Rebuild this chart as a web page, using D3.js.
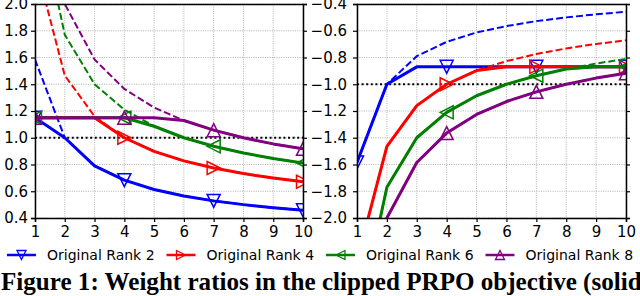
<!DOCTYPE html>
<html>
<head>
<meta charset="utf-8">
<script src="https://cdn.jsdelivr.net/npm/d3@7"></script>
<style>
  body { margin: 0; background: #fff; overflow: hidden; }
  svg { display: block; }
  .tick text { font-family: "DejaVu Sans", sans-serif; font-size: 15px; fill: #000; }
  .legend text { font-family: "DejaVu Sans", sans-serif; font-size: 14px; }
  .caption { font-family: "Liberation Serif", serif; font-weight: bold; }
</style>
</head>
<body>
<svg width="640" height="296"></svg>
<script>
// new rank positions
var ranks = [1, 2, 3, 4, 5, 6, 7, 8, 9, 10];
var names = ["Original Rank 2", "Original Rank 4", "Original Rank 6", "Original Rank 8"];
var colors = ["#0000ff", "#ff0000", "#008000", "#800080"];
var markers = ["down", "right", "left", "up"];

// left panel: unclipped ratios (dashed) and clipped ratios (solid)
var leftDashed = [
  [1.585, 1.0, 0.79, 0.683, 0.613, 0.565, 0.528, 0.5, 0.477, 0.458],
  [2.32, 1.465, 1.16, 1.0, 0.898, 0.827, 0.774, 0.732, 0.699, 0.671],
  [2.81, 1.77, 1.40, 1.21, 1.086, 1.0, 0.936, 0.886, 0.845, 0.811],
  [3.17, 2.0, 1.585, 1.365, 1.226, 1.129, 1.057, 1.0, 0.954, 0.917]
];
var leftSolid = [
  [1.15, 1.0, 0.79, 0.683, 0.613, 0.565, 0.528, 0.5, 0.477, 0.458],
  [1.15, 1.15, 1.15, 1.0, 0.898, 0.827, 0.774, 0.732, 0.699, 0.671],
  [1.15, 1.15, 1.15, 1.15, 1.086, 1.0, 0.936, 0.886, 0.845, 0.811],
  [1.15, 1.15, 1.15, 1.15, 1.15, 1.129, 1.057, 1.0, 0.954, 0.917]
];
// right panel
var rightDashed = [
  [-1.585, -1.0, -0.79, -0.683, -0.613, -0.565, -0.528, -0.5, -0.477, -0.458],
  [-2.32, -1.465, -1.16, -1.0, -0.898, -0.827, -0.774, -0.732, -0.699, -0.671],
  [-2.81, -1.77, -1.40, -1.21, -1.086, -1.0, -0.936, -0.886, -0.845, -0.811],
  [-3.17, -2.0, -1.585, -1.365, -1.226, -1.129, -1.057, -1.0, -0.954, -0.917]
];
var rightSolid = [
  [-1.585, -1.0, -0.87, -0.87, -0.87, -0.87, -0.87, -0.87, -0.87, -0.87],
  [-2.32, -1.465, -1.16, -1.0, -0.898, -0.87, -0.87, -0.87, -0.87, -0.87],
  [-2.81, -1.77, -1.40, -1.21, -1.086, -1.0, -0.936, -0.886, -0.87, -0.87],
  [-3.17, -2.0, -1.585, -1.365, -1.226, -1.129, -1.057, -1.0, -0.954, -0.917]
];
var leftTicks = [0.4, 0.6, 0.8, 1.0, 1.2, 1.4, 1.6, 1.8, 2.0];
var rightTicks = [-2.0, -1.8, -1.6, -1.4, -1.2, -1.0, -0.8, -0.6, -0.4];
var markEvery = [1, 4, 7, 10];

var svg = d3.select("svg");

function triangle(dir, r) {
  if (dir == "up") return "M0," + (-r) + "L" + r + "," + r + "L" + (-r) + "," + r + "Z";
  if (dir == "down") return "M0," + r + "L" + r + "," + (-r) + "L" + (-r) + "," + (-r) + "Z";
  if (dir == "left") return "M" + (-r) + ",0L" + r + "," + (-r) + "L" + r + "," + r + "Z";
  return "M" + r + ",0L" + (-r) + "," + (-r) + "L" + (-r) + "," + r + "Z";
}

function panel(id, x0, x1, yDomain, ticks, refLine, dashed, solid, pad) {
  var xscale = d3.scaleLinear().domain([1, 10]).range([x0, x1]);
  var yscale = d3.scaleLinear().domain(yDomain).range([218, 4]);
  var g = svg.append("g");

  svg.append("clipPath").attr("id", id)
    .append("rect").attr("x", x0).attr("y", 4).attr("width", x1 - x0).attr("height", 214);

  // grid
  g.selectAll(".gx").data(ranks).enter().append("line")
    .attr("x1", d => xscale(d)).attr("x2", d => xscale(d))
    .attr("y1", 4).attr("y2", 218)
    .attr("stroke", "#a8a8a8").attr("stroke-width", 0.9).attr("stroke-dasharray", "1,1.3");
  g.selectAll(".gy").data(ticks).enter().append("line")
    .attr("x1", x0).attr("x2", x1)
    .attr("y1", d => yscale(d)).attr("y2", d => yscale(d))
    .attr("stroke", "#a8a8a8").attr("stroke-width", 0.9).attr("stroke-dasharray", "1,1.3");

  var plot = g.append("g").attr("clip-path", "url(#" + id + ")");

  plot.append("line")
    .attr("x1", x0).attr("x2", x1)
    .attr("y1", yscale(refLine)).attr("y2", yscale(refLine))
    .attr("stroke", "#000").attr("stroke-width", 2).attr("stroke-dasharray", "2,2.6");

  var line = d3.line().x((d, i) => xscale(ranks[i])).y(d => yscale(d));

  for (var k = 0; k < 4; k++) {
    plot.append("path").attr("d", line(solid[k]))
      .attr("fill", "none").attr("stroke", colors[k]).attr("stroke-width", 3)
      .attr("stroke-linejoin", "round");
    plot.append("path").attr("d", line(dashed[k]))
      .attr("fill", "none").attr("stroke", colors[k]).attr("stroke-width", 2)
      .attr("stroke-dasharray", "7,3");
    plot.selectAll(".m" + k).data(markEvery).enter().append("path")
      .attr("d", triangle(markers[k], 6.5))
      .attr("transform", d => "translate(" + xscale(d) + "," + yscale(solid[k][d - 1]) + ")")
      .attr("fill", "none").attr("stroke", colors[k]).attr("stroke-width", 1.5);
  }

  // axes
  var fmt = d3.format(".1f");
  g.append("g").attr("transform", "translate(0,218)")
    .call(d3.axisBottom(xscale).tickValues(ranks).tickFormat(d3.format("d")).tickSize(4).tickPadding(4));
  g.append("g").attr("transform", "translate(" + x0 + ",0)")
    .call(d3.axisLeft(yscale).tickValues(ticks).tickFormat(fmt).tickSize(4).tickPadding(pad));
  g.append("g").attr("transform", "translate(" + x1 + ",0)")
    .call(d3.axisRight(yscale).tickValues(ticks).tickFormat("").tickSize(4));
  g.append("g").attr("transform", "translate(0,4)")
    .call(d3.axisTop(xscale).tickValues([]).tickSizeOuter(0));
  g.selectAll(".domain").attr("stroke", "#000").attr("stroke-width", 1.5);
  g.selectAll(".tick line").attr("stroke", "#000").attr("stroke-width", 1.2);
}

panel("clipL", 35, 303, [0.4, 2.0], leftTicks, 1.0, leftDashed, leftSolid, 3);
panel("clipR", 357, 626, [-2.0, -0.4], rightTicks, -1.0, rightDashed, rightSolid, 6);

// legend
var legend = svg.append("g").attr("class", "legend");
names.forEach(function(name, k) {
  var lx = 7 + k * 159.5;
  legend.append("line").attr("x1", lx).attr("x2", lx + 29).attr("y1", 255).attr("y2", 255)
    .attr("stroke", colors[k]).attr("stroke-width", 2.5);
  legend.append("path").attr("d", triangle(markers[k], 4.5))
    .attr("transform", "translate(" + (lx + 14.5) + ",255)")
    .attr("fill", "none").attr("stroke", colors[k]).attr("stroke-width", 1.3);
  legend.append("text").attr("x", lx + 40).attr("y", 260).text(name);
});

// caption
var cap = svg.append("text").attr("class", "caption")
  .attr("x", 1).attr("y", 290).style("font-size", "20px")
  .text("Figure 1: Weight ratios in the clipped PRPO objective (solid");
var w = cap.node().getComputedTextLength();
cap.style("font-size", (20 * 641 / w) + "px");
</script>
</body>
</html>
